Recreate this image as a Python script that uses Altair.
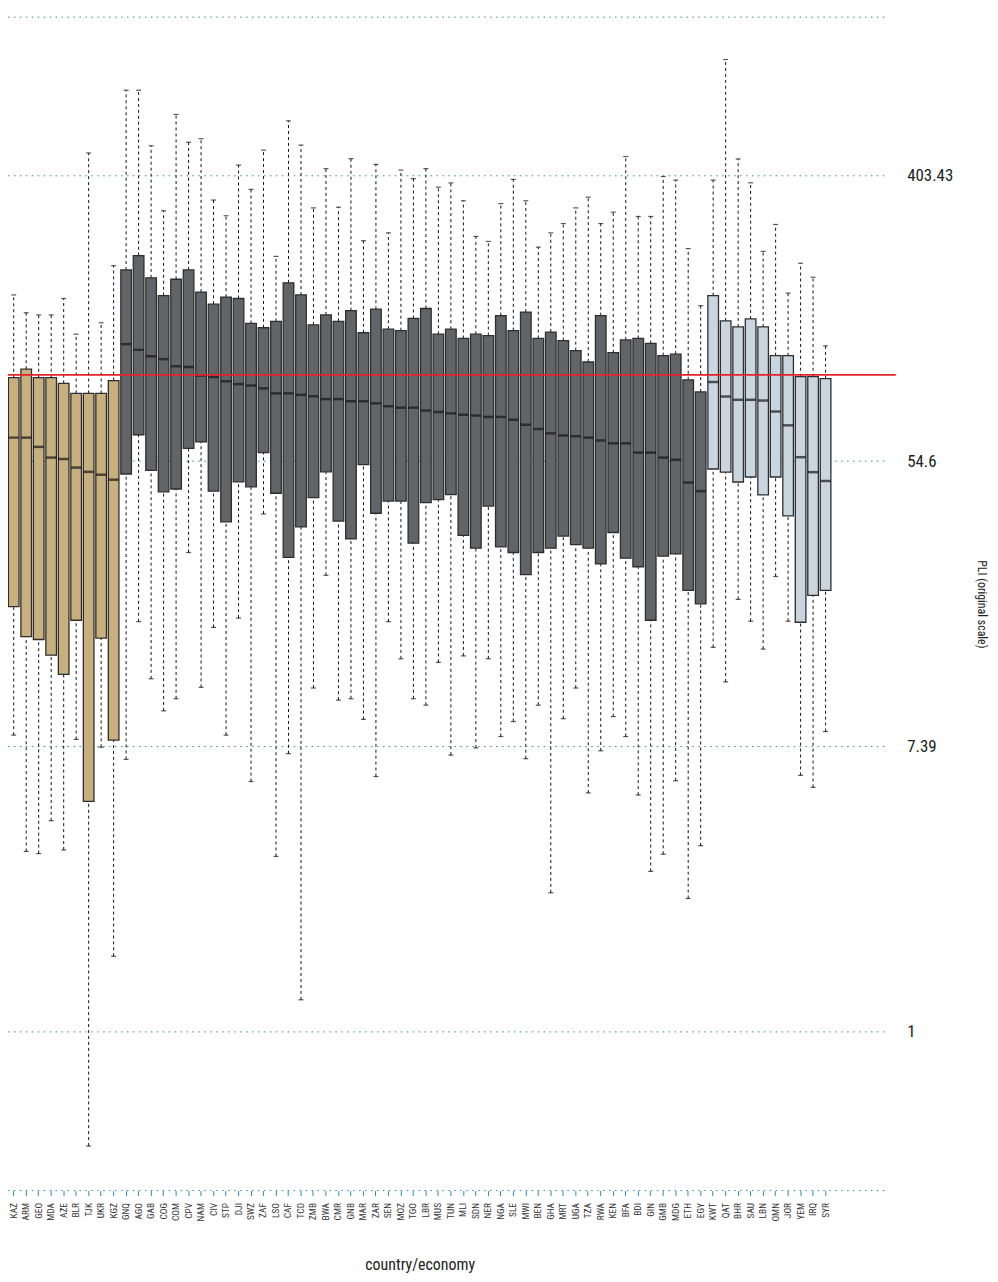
import altair as alt
import pandas as pd

# Country codes (x axis order)
codes = ["KAZ", "ARM", "GEO", "MDA", "AZE", "BLR", "TJK", "UKR", "KGZ",
         "GNQ", "AGO", "GAB", "COG", "COM", "CPV", "NAM", "CIV", "STP", "DJI",
         "SWZ", "ZAF", "LSO", "CAF", "TCD", "ZMB", "BWA", "CMR", "GNB", "MAR",
         "ZAR", "SEN", "MOZ", "TGO", "LBR", "MUS", "TUN", "MLI", "SDN", "NER",
         "NGA", "SLE", "MWI", "BEN", "GHA", "MRT", "UGA", "TZA", "RWA", "KEN",
         "BFA", "BDI", "GIN", "GMB", "MDG", "ETH", "EGY",
         "KWT", "QAT", "BHR", "SAU", "LBN", "OMN", "JOR", "YEM", "IRQ", "SYR"]
groups = ["CIS"] * 9 + ["SSA"] * 47 + ["MENA"] * 10

# Values on the natural-log scale of PLI
upper = [5.165, 5.04, 5.025, 5.025, 5.14, 4.89, 6.16, 4.97, 5.37,
         6.6, 6.6, 6.21, 5.755, 6.43, 6.235, 6.26, 5.83, 5.72, 6.075,
         5.905, 6.18, 5.435, 6.385, 6.215, 5.775, 6.05, 5.78, 6.12, 5.545,
         6.08, 5.6, 6.04, 5.98, 6.05, 5.92, 5.95, 5.825, 5.575, 5.54,
         5.805, 5.975, 5.825, 5.5, 5.6, 5.665, 5.775, 5.85, 5.665, 5.745,
         6.135, 5.715, 5.715, 5.995, 5.97, 5.49, 5.09,
         5.97, 6.815, 6.118, 5.951, 5.47, 5.659, 5.178, 5.387, 5.289, 4.808]
q3 = [4.585, 4.645, 4.585, 4.585, 4.545, 4.475, 4.475, 4.475, 4.565,
      5.34, 5.44, 5.285, 5.16, 5.275, 5.34, 5.185, 5.1, 5.15, 5.14,
      4.965, 4.935, 4.98, 5.25, 5.165, 4.955, 5.025, 4.98, 5.055, 4.9,
      5.065, 4.925, 4.915, 5.0, 5.07, 4.89, 4.925, 4.86, 4.89, 4.88,
      5.02, 4.915, 5.045, 4.86, 4.905, 4.845, 4.775, 4.695, 5.02, 4.76,
      4.85, 4.86, 4.825, 4.74, 4.75, 4.57, 4.485,
      5.16, 4.983, 4.941, 4.997, 4.941, 4.739, 4.739, 4.592, 4.592, 4.578]
median = [4.165, 4.165, 4.1, 4.025, 4.015, 3.955, 3.925, 3.905, 3.87,
          4.82, 4.78, 4.735, 4.715, 4.665, 4.66, 4.6, 4.59, 4.56, 4.54,
          4.53, 4.51, 4.475, 4.475, 4.465, 4.455, 4.435, 4.435, 4.42, 4.42,
          4.405, 4.385, 4.375, 4.375, 4.355, 4.345, 4.335, 4.325, 4.32, 4.31,
          4.31, 4.29, 4.255, 4.225, 4.195, 4.18, 4.175, 4.165, 4.145, 4.125,
          4.125, 4.06, 4.06, 4.025, 4.01, 3.85, 3.79,
          4.555, 4.453, 4.43, 4.43, 4.425, 4.348, 4.251, 4.028, 3.923, 3.861]
q1 = [2.98, 2.77, 2.75, 2.64, 2.505, 2.885, 1.615, 2.76, 2.045,
      3.91, 4.185, 3.935, 3.785, 3.805, 4.09, 4.135, 3.79, 3.575, 3.855,
      3.82, 4.06, 3.775, 3.325, 3.54, 3.745, 3.925, 3.58, 3.455, 3.975,
      3.635, 3.72, 3.72, 3.425, 3.71, 3.73, 3.765, 3.48, 3.39, 3.685,
      3.4, 3.36, 3.205, 3.36, 3.39, 3.475, 3.415, 3.39, 3.28, 3.5,
      3.32, 3.26, 2.885, 3.335, 3.35, 3.095, 3.0,
      3.945, 3.923, 3.854, 3.889, 3.763, 3.889, 3.617, 2.871, 3.059, 3.094]
lower = [2.08, 1.265, 1.25, 1.48, 1.275, 2.05, -0.8, 1.995, 0.53,
         1.91, 2.875, 2.475, 2.25, 2.335, 3.36, 2.415, 2.835, 2.08, 2.9,
         1.755, 3.63, 1.23, 1.95, 0.225, 2.41, 3.2, 2.325, 2.335, 2.19,
         1.79, 2.875, 2.615, 2.335, 2.29, 2.59, 1.94, 2.635, 1.99, 2.615,
         2.07, 2.175, 1.915, 2.29, 0.975, 2.195, 2.41, 1.675, 1.97, 2.21,
         2.07, 1.66, 1.125, 1.245, 1.76, 0.935, 1.305,
         2.695, 2.453, 3.031, 2.878, 2.683, 3.192, 2.878, 1.798, 1.714, 2.105]

ref_line = [4.605]  # ln(100)
y_min, y_max = -1.112, 7.112
label_ticks = [0, 2, 4, 6]
grid_values = [y_min, 0, 2, 4, 6, y_max]
group_names = ["CIS", "SSA", "MENA"]
group_colors = ["#c8b07e", "#636467", "#c9d5df"]

df = pd.DataFrame(dict(code=codes, group=groups, lo=lower, q1=q1,
                       med=median, q3=q3, hi=upper))
ref_df = pd.DataFrame(dict(v=ref_line))
grid_df = pd.DataFrame(dict(v=grid_values))

W = 887
H = 1183
FONT = "Liberation Sans Narrow, Roboto Condensed, DejaVu Sans Condensed, sans-serif"
TEAL = "#2b8ca8"

xsc = alt.Scale(domain=codes, range=[-4, 834], paddingInner=0.15, paddingOuter=0.35)
ysc = alt.Scale(domain=[y_min, y_max], nice=False, zero=False)

x_axis = alt.Axis(title="country/economy", labelAngle=-90, labelFontSize=9.5,
                  labelFont=FONT, labelColor="#333", tickColor=TEAL, tickSize=5,
                  domain=False, grid=False, labelPadding=7, titleFont=FONT,
                  titleFontSize=16, titleFontWeight="normal", titleColor="#222",
                  titlePadding=36)
y_axis = alt.Axis(orient="right", values=label_ticks,
                  labelExpr="format(exp(datum.value), '.2~f')",
                  grid=False, ticks=False, domain=False, labelFont=FONT,
                  labelFontSize=17, labelColor="#222", labelPadding=19,
                  title="PLI (original scale)", titleAngle=90, titleFont=FONT,
                  titleFontSize=12, titleFontWeight="normal", titleColor="#222",
                  titlePadding=22)

X = alt.X("code:N", scale=xsc, sort=codes, axis=x_axis)


def Y(field):
    return alt.Y(field, scale=ysc, axis=y_axis)


grid = alt.Chart(grid_df).mark_rule(color=TEAL, strokeDash=[1.5, 4.5], strokeWidth=1).encode(
    y=Y("v:Q"), x=alt.value(0), x2=alt.value(W))

base = alt.Chart(df)

whisk_lo = base.mark_rule(color="#111", strokeDash=[3, 3], strokeWidth=1).encode(
    x=X, y=Y("lo:Q"), y2="q1:Q")
whisk_hi = base.mark_rule(color="#111", strokeDash=[3, 3], strokeWidth=1).encode(
    x=X, y=Y("q3:Q"), y2="hi:Q")
cap_lo = base.mark_tick(color="#111", size=5, thickness=1.2).encode(x=X, y=Y("lo:Q"))
cap_hi = base.mark_tick(color="#111", size=5, thickness=1.2).encode(x=X, y=Y("hi:Q"))
boxes = base.mark_bar(stroke="#2e2e2e", strokeWidth=1.3).encode(
    x=X, y=Y("q1:Q"), y2="q3:Q",
    color=alt.Color("group:N", scale=alt.Scale(domain=group_names, range=group_colors),
                    legend=None),
)
meds = base.mark_tick(color="#151515", size=10.5, thickness=2.5).encode(x=X, y=Y("med:Q"))
red = alt.Chart(ref_df).mark_rule(color="#e3232a", strokeWidth=1.6).encode(
    y=Y("v:Q"),
    x=alt.value(0),
    x2=alt.value(W + 8),
)

chart = alt.layer(grid, whisk_lo, whisk_hi, cap_lo, cap_hi, boxes, meds, red).properties(
    width=W, height=H,
    autosize=alt.AutoSizeParams(type="none"),
    padding={"left": 0, "top": 4, "right": 103, "bottom": 90},
).configure_view(stroke=None)

chart.save("out.html", embed_options={"renderer": "svg", "actions": False})
